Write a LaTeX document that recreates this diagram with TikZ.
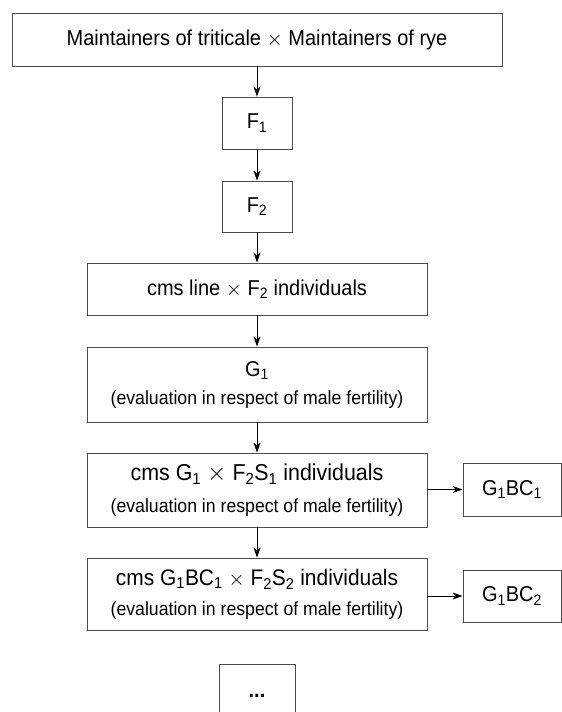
\documentclass[tikz,border=0pt]{standalone}
\usepackage{fontspec}
\setmainfont{Liberation Sans}[FakeStretch=0.93]
\usetikzlibrary{arrows.meta}
\newcommand{\lo}[1]{\textsubscript{#1}}
\begin{document}
\begin{tikzpicture}[x=1pt,y=-1pt,
	boxnode/.style={draw=black!70,line width=0.9pt,inner sep=0pt,align=center,font=\fontsize{21.5}{25}\selectfont},
	arr/.style={draw=black,line width=0.9pt,-{Stealth[length=10pt,width=7pt]}}]
	\clip (0,0) rectangle (562,712);
	\node [boxnode,minimum width=490,minimum height=53] (top) at (257,39.5) {Maintainers of triticale $\times$ Maintainers of rye};
	\node [boxnode,minimum width=70,minimum height=52] (fone) at (257,123) {F\lo{1}};
	\node [boxnode,minimum width=70,minimum height=51] (ftwo) at (257,206.5) {F\lo{2}};
	\node [boxnode,minimum width=340,minimum height=52] (cross) at (257,289) {cms line $\times$ F\lo{2} individuals};
	\node [boxnode,minimum width=340,minimum height=75] (gone) at (257,384.5) {G\lo{1}\\[3pt]{\fontsize{19}{22}\selectfont (evaluation in respect of male fertility)}};
	\node [boxnode,minimum width=340,minimum height=74] (gcone) at (257,490) {{\fontsize{23}{26}\selectfont cms G\lo{1} $\times$ F\lo{2}S\lo{1} individuals}\\[7pt]{\fontsize{19}{22}\selectfont (evaluation in respect of male fertility)}};
	\node [boxnode,minimum width=340,minimum height=72] (gctwo) at (257,594) {{\fontsize{22.5}{26}\selectfont cms G\lo{1}BC\lo{1} $\times$ F\lo{2}S\lo{2} individuals}\\[5pt]{\fontsize{19}{22}\selectfont (evaluation in respect of male fertility)}};
	\node [boxnode,minimum width=98,minimum height=53] (bcone) at (512,489.5) {G\lo{1}BC\lo{1}};
	\node [boxnode,minimum width=98,minimum height=52] (bctwo) at (512,596) {G\lo{1}BC\lo{2}};
	\node [boxnode,minimum width=76,minimum height=100] (dots) at (257,714) {};
	\node [font=\fontsize{21.5}{25}\selectfont\bfseries] (dotstext) at (257,696) {...};
	% vertical chain
	\draw [arr] (top) -- (fone);
	\draw [arr] (fone) -- (ftwo);
	\draw [arr] (ftwo) -- (cross);
	\draw [arr] (cross) -- (gone);
	\draw [arr] (gone) -- (gcone);
	\draw [arr] (gcone) -- (gctwo);
	% side branches
	\draw [arr] (gcone.east|-bcone.west) -- (bcone.west);
	\draw [arr] (gctwo.east|-bctwo.west) -- (bctwo.west);
\end{tikzpicture}
\end{document}
